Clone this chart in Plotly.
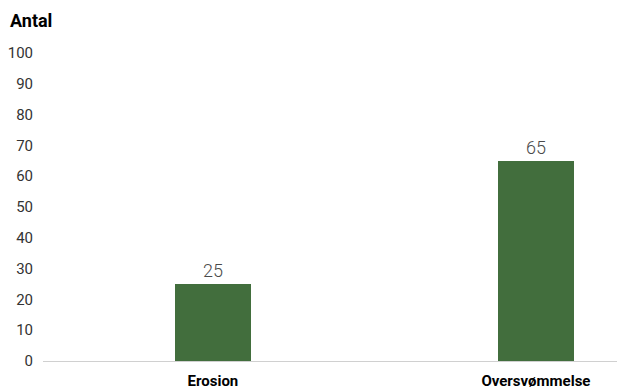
import plotly.graph_objects as go

categories = ["Erosion", "Oversvømmelse"]
values = [25, 65]
y_ticks = [0, 10, 20, 30, 40, 50, 60, 70, 80, 90, 100]

fig = go.Figure()
fig.add_trace(go.Bar(
    x=list(range(len(categories))),
    y=values,
    width=0.235,
    marker=dict(color="#426E3D", line=dict(width=0)),
    text=[str(v) for v in values],
    textposition="outside",
    textfont=dict(family="Roboto", size=18, color="#4a4a4a", weight=300),
    cliponaxis=False,
))

fig.update_layout(
    width=617, height=390,
    margin=dict(l=43, r=0, t=53, b=29),
    paper_bgcolor="white", plot_bgcolor="white",
    font=dict(family="Roboto", color="#333333"),
    showlegend=False,
    bargap=0,
    title=dict(text="<b>Antal</b>", xref="container", yref="container",
               x=10/617, xanchor="left", y=1-21/390, yanchor="middle",
               font=dict(family="Roboto", size=18, color="#000000")),
    xaxis=dict(
        range=[-0.526, 1.251],
        tickvals=list(range(len(categories))),
        ticktext=["<b>%s</b>" % c for c in categories],
        tickfont=dict(family="Roboto", size=15, color="#000000"),
        showline=True, linecolor="#d0d0d0", linewidth=1,
        showgrid=False, zeroline=False,
        ticks="outside", ticklen=6, tickcolor="rgba(0,0,0,0)",
    ),
    yaxis=dict(
        range=[0, 100],
        tickvals=y_ticks,
        tickfont=dict(family="Roboto", size=15, color="#333333"),
        showgrid=False, zeroline=False, showline=False,
        ticks="outside", ticklen=6, tickcolor="rgba(0,0,0,0)",
    ),
)

fig.write_html("out.html", config={"displayModeBar": False},
               post_script="document.body.style.margin='0';")
